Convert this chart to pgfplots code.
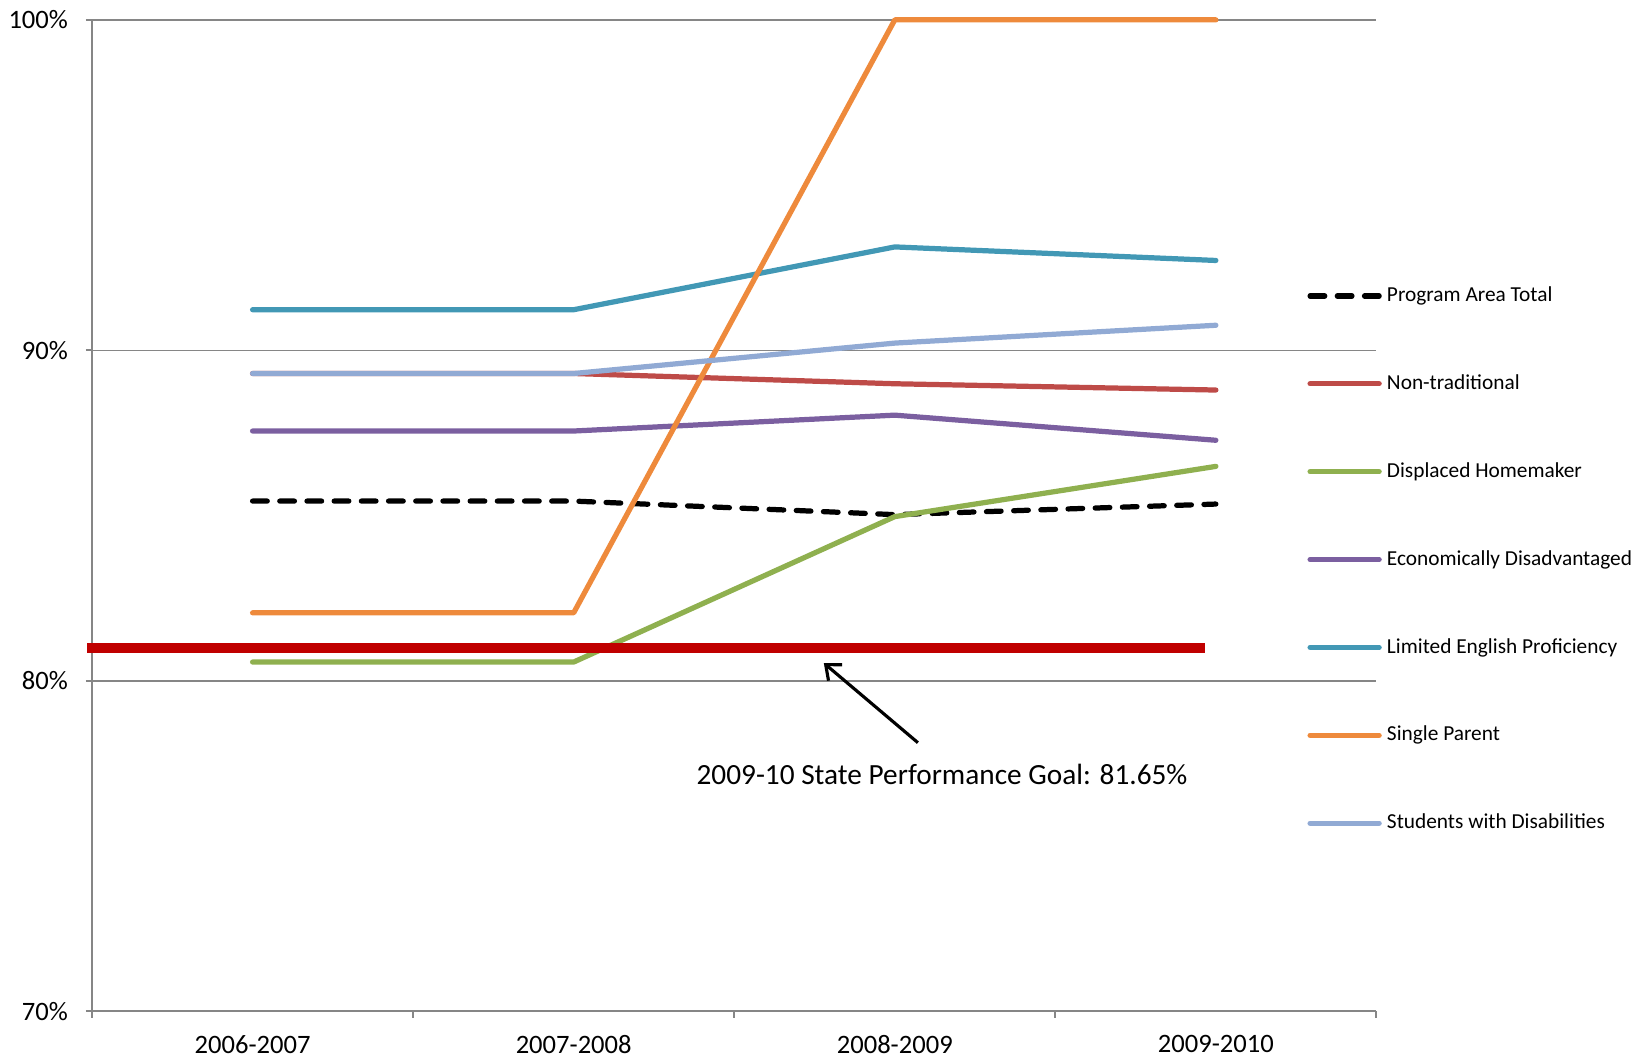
\documentclass[border=0pt]{standalone}
\usepackage{pgfplots}
\pgfplotsset{compat=1.18}
\usepackage{fontspec}
\setmainfont{Carlito}
\usetikzlibrary{arrows.meta}

\definecolor{gridgray}{HTML}{868686}
\definecolor{nontrad}{HTML}{BE4B48}
\definecolor{displaced}{HTML}{8FB04F}
\definecolor{econ}{HTML}{7B5FA0}
\definecolor{lep}{HTML}{4298B5}
\definecolor{single}{HTML}{EE8A3C}
\definecolor{swd}{HTML}{91AAD4}
\definecolor{goalred}{HTML}{C00000}

\begin{document}
\begin{tikzpicture}
\path[use as bounding box] (-44pt,-24pt) rectangle (740pt,483.5pt);
\begin{axis}[
  at={(0,0)}, anchor=south west,
  scale only axis, width=614pt, height=474pt,
  xmin=-0.5, xmax=3.5, ymin=70, ymax=100,
  xtick={0,1,2,3},
  xticklabels={2006-2007,2007-2008,2008-2009,2009-2010},
  minor xtick={-0.5,0.5,1.5,2.5,3.5},
  ytick={70,80,90,100},
  yticklabels={70\%,80\%,90\%,100\%},
  axis x line*=bottom, axis y line*=left,
  axis line style={gridgray, line width=1pt},
  tick align=outside, major tick length=3pt, minor tick length=3pt,
  major x tick style={draw=none},
  tick style={gridgray, line width=1pt},
  ymajorgrids, grid style={gridgray, line width=0.75pt},
  tick label style={font=\fontsize{12.7}{15}\selectfont},
  yticklabel style={xshift=-5pt},
  xticklabel style={yshift=-5pt},
  /pgf/number format/assume math mode=true,
  clip=false,
  legend style={at={(axis description cs:0.946,0.731)}, anchor=north west,
    draw=none, fill=none, inner sep=0pt, row sep=33pt, column sep=2.5pt,
    font=\fontsize{10.2}{12}\selectfont,
    nodes={inner sep=0pt, text height=7pt, text depth=2pt, anchor=base west}},
  legend cell align=left,
  legend image code/.code={\draw[#1] (0pt,2.7pt) -- (33pt,2.7pt);},
  every axis plot/.append style={line width=2.5pt, line cap=round, line join=round},
]
\addplot[black, dash pattern=on 7pt off 6pt] coordinates {(0,85.44) (1,85.44) (2,85.03) (3,85.35)};
\addlegendentry{Program Area Total}
\addplot[nontrad] coordinates {(0,89.30) (1,89.30) (2,88.99) (3,88.80)};
\addlegendentry{Non-traditional}
\addplot[displaced] coordinates {(0,80.57) (1,80.57) (2,84.97) (3,86.49)};
\addlegendentry{Displaced Homemaker}
\addplot[econ] coordinates {(0,87.56) (1,87.56) (2,88.04) (3,87.28)};
\addlegendentry{Economically Disadvantaged}
\addplot[lep] coordinates {(0,91.23) (1,91.23) (2,93.13) (3,92.72)};
\addlegendentry{Limited English Proficiency}
\addplot[single] coordinates {(0,82.06) (1,82.06) (2,100) (3,100)};
\addlegendentry{Single Parent}
\addplot[swd] coordinates {(0,89.30) (1,89.30) (2,90.22) (3,90.76)};
\addlegendentry{Students with Disabilities}
\addplot[goalred, line width=4.5pt, line cap=butt, forget plot] coordinates {(-0.515,81.0) (2.967,81.0)};
\draw[black, line width=1.5pt, -{Straight Barb[length=6pt,width=10pt]}] (axis cs:2.072,78.13) -- (axis cs:1.779,80.54);
\node[font=\fontsize{14}{16}\selectfont] at (axis cs:2.147,77.18) {2009-10 State Performance Goal: 81.65\%};
\end{axis}
\end{tikzpicture}
\end{document}
